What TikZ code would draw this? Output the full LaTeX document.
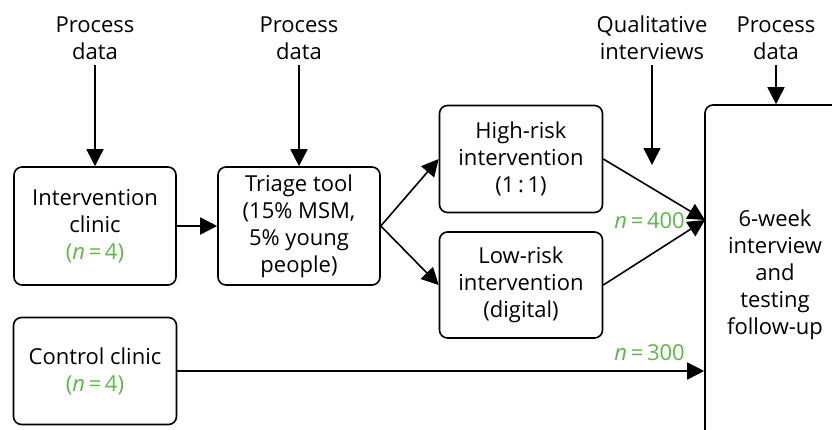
\documentclass[tikz,border=0pt]{standalone}
\usepackage{fontspec}
\setmainfont{Open Sans}
\usetikzlibrary{arrows.meta}
\definecolor{hgreen}{RGB}{92,184,72}
\begin{document}
\begin{tikzpicture}[x=1pt,y=-1pt,
  txt/.style={font=\fontsize{22}{27}\selectfont, align=center, inner sep=0pt},
  box/.style={txt, draw, line width=1.6pt, rounded corners=8pt},
  arr/.style={line width=1.6pt, -{Triangle[length=17pt,width=17pt]}},
  gn/.style={txt, text=hgreen}]
\useasboundingbox (0,0) rectangle (832,429);
\clip (0,0) rectangle (832,429);
% boxes
\node[box, minimum width=162pt, minimum height=118pt] (ic) at (95,226)
  {Intervention\\clinic\\\textcolor{hgreen}{(\textit{n}\,=\,4)}};
\node[box, minimum width=162pt, minimum height=118pt] (tt) at (299,226)
  {Triage tool\\(15\% MSM,\\5\% young\\people)};
\node[box, minimum width=163pt, minimum height=107pt] (hr) at (521,159)
  {High-risk\\intervention\\(1\,:\,1)};
\node[box, minimum width=163pt, minimum height=106pt] (lr) at (521,285)
  {Low-risk\\intervention\\(digital)};
\node[box, minimum width=163pt, minimum height=107pt] (cc) at (95,371)
  {Control clinic\\\textcolor{hgreen}{(\textit{n}\,=\,4)}};
\node[box, minimum width=140pt, minimum height=340pt] (fu) at (775,275)
  {6-week\\interview\\and\\testing\\follow-up};
% top labels
\node[txt] (pd1) at (95,38) {Process\\data};
\node[txt] (pd2) at (299,38) {Process\\data};
\node[txt] (qi) at (652,38) {Qualitative\\interviews};
\node[txt] (pd3) at (776,38) {Process\\data};
\coordinate (qend) at (652,165);
\coordinate (merge) at (705,220);
% arrows
\draw[arr] ([yshift=-5pt]pd1.south) -- (ic.north);
\draw[arr] ([yshift=-5pt]pd2.south) -- (tt.north);
\draw[arr] ([yshift=-5pt]qi.south) -- (qend);
\draw[arr] ([yshift=-5pt]pd3.south) -- (fu.north -| pd3.south);
\draw[arr] (ic.east) -- (tt.west);
\draw[arr] (tt.east) -- (hr.west);
\draw[arr] (tt.east) -- (lr.west);
\draw[arr] (hr.east) -- (merge);
\draw[arr] (lr.east) -- (merge);
\draw[arr] (cc.east) -- (cc.east -| fu.west);
% n labels
\node[gn, anchor=east] (n400) at (685,221) {\textit{n}\,=\,400};
\node[gn, anchor=east] (n300) at (685,353) {\textit{n}\,=\,300};
\end{tikzpicture}
\end{document}
